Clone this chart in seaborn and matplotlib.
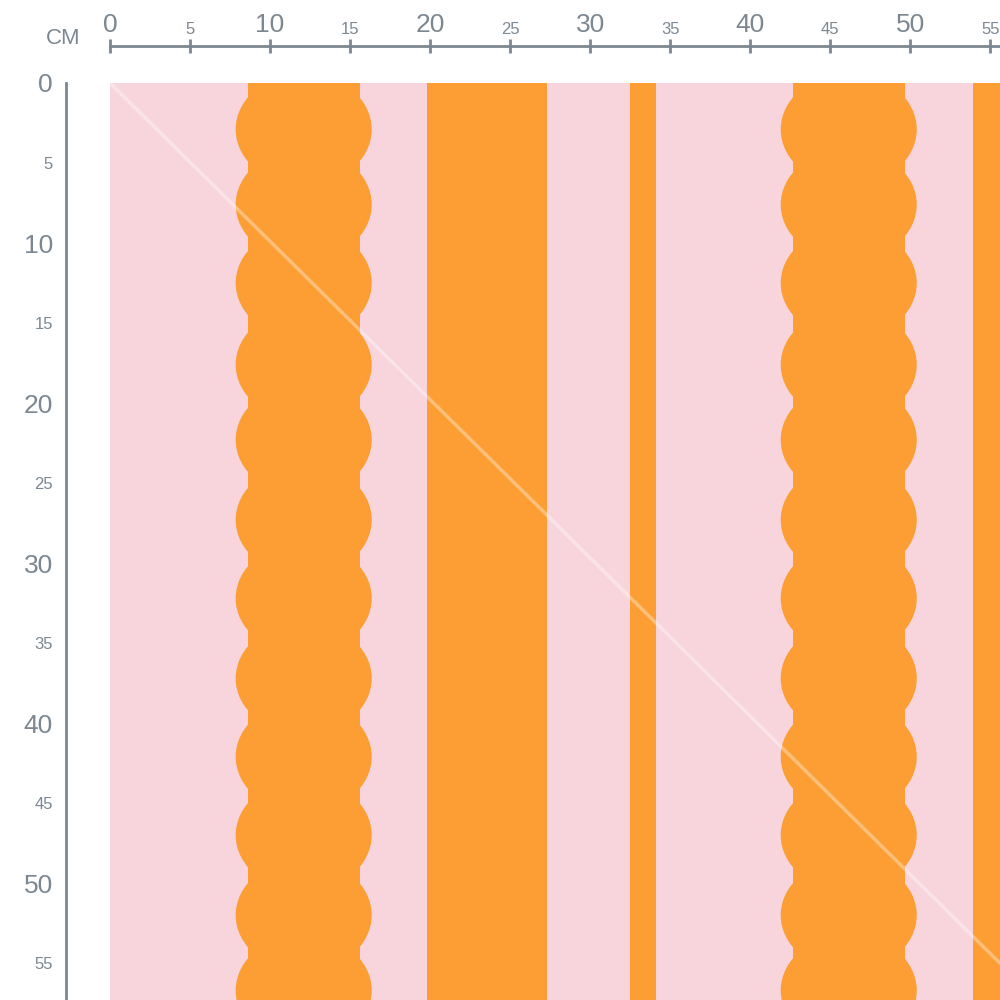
import matplotlib
matplotlib.use("Agg")
import matplotlib.pyplot as plt
from matplotlib.patches import Ellipse
import seaborn as sns

sns.set_style("white")
plt.rcParams['font.family'] = ['Liberation Sans', 'DejaVu Sans']

pink = "#F8D5DC"
orange = "#FC9E33"
gray = "#7C8791"

# plain stripes (cm start, cm end)
plain_stripes = [(19.8, 27.3), (32.5, 34.1), (53.9, 60.0)]
# scalloped stripes: centre x (cm), core width, bulge width
scallop_x = [12.1, 46.15]
core_width = [7.0, 7.0]
bulge_width = [8.5, 8.5]
bulge_y = [-2.1, 2.9, 7.6, 12.5, 17.6, 22.3, 27.3, 32.2, 37.2, 42.1, 47.0, 52.0, 56.7, 61.7]
bulge_height = 7.0

fig = plt.figure(figsize=(10, 10), dpi=100)
ax = fig.add_axes([0.11, 0.0, 0.89, 0.917])
ax.set_xlim(0, 55.6)
ax.set_ylim(57.3, 0)
ax.set_facecolor(pink)

for a, b in plain_stripes:
    ax.axvspan(a, b, color=orange, lw=0)
for cx, cw, bw in zip(scallop_x, core_width, bulge_width):
    ax.axvspan(cx - cw / 2, cx + cw / 2, color=orange, lw=0)
    for yc in bulge_y:
        ax.add_patch(Ellipse((cx, yc), bw, bulge_height, color=orange, lw=0))

sns.lineplot(x=[0, 55.6], y=[0, 55.0], ax=ax, color="white", alpha=0.35, lw=2.5)

for s in ["right", "bottom"]:
    ax.spines[s].set_visible(False)
for s in ["top", "left"]:
    ax.spines[s].set_color(gray)
    ax.spines[s].set_linewidth(2)
ax.spines["top"].set_position(("outward", 27))
ax.spines["left"].set_position(("outward", 32))

ax.xaxis.set_ticks_position("top")
ax.xaxis.set_label_position("top")
ax.set_xticks(range(0, 56, 10))
ax.set_xticks(range(5, 56, 10), minor=True)
ax.set_xticklabels([str(v) for v in range(0, 56, 10)], fontsize=19, color=gray)
ax.set_xticklabels([str(v) for v in range(5, 56, 10)], minor=True, fontsize=12, color=gray)
ax.set_yticks(range(0, 56, 10))
ax.set_yticks(range(5, 56, 10), minor=True)
ax.set_yticklabels([str(v) for v in range(0, 56, 10)], fontsize=19, color=gray)
ax.set_yticklabels([str(v) for v in range(5, 56, 10)], minor=True, fontsize=12, color=gray)
ax.tick_params(axis="x", which="both", direction="inout", color=gray, width=2, length=10, pad=1)
ax.tick_params(axis="y", which="both", direction="out", color=gray, width=2, length=8, pad=1)
fig.text(0.063, 0.962, "CM", fontsize=16, color=gray, ha="center", va="center")
ax.grid(False)

fig.savefig("out.png", dpi=100, facecolor="white")
